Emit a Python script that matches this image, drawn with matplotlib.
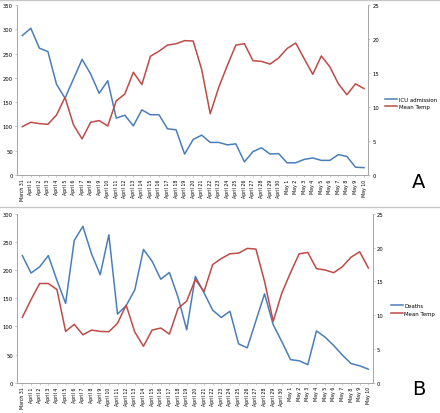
import matplotlib
matplotlib.use("Agg")
import matplotlib.pyplot as plt
from matplotlib.lines import Line2D

dates = ["March 31"] + ["April %d" % d for d in range(1, 31)] + ["May %d" % d for d in range(1, 11)]

# panel A
icu_admission = [287, 302, 261, 254, 187, 158, 198, 238, 208, 168, 194, 117, 123, 101, 134,
                 124, 124, 95, 93, 43, 73, 82, 67, 67, 62, 64, 27, 48, 56, 43,
                 44, 25, 25, 32, 35, 30, 30, 42, 38, 16, 15]
temp_a = [7.1, 7.75, 7.55, 7.45, 8.8, 11.4, 7.35, 5.3, 7.75, 8.0, 7.2, 10.9, 11.9, 15.1, 13.3,
          17.45, 18.2, 19.1, 19.3, 19.75, 19.7, 15.5, 9.0, 12.9, 16.1, 19.1, 19.3, 16.8, 16.7, 16.3,
          17.2, 18.6, 19.4, 17.1, 14.8, 17.5, 15.9, 13.4, 11.8, 13.4, 12.7]

# panel B
deaths = [226, 195, 206, 226, 182, 141, 253, 278, 229, 192, 263, 122, 137, 165, 237,
          216, 184, 196, 152, 94, 189, 160, 129, 116, 127, 69, 62, 110, 158, 103,
          73, 41, 39, 32, 92, 81, 66, 49, 34, 30, 24]
temp_b = [9.7, 12.3, 14.7, 14.7, 13.8, 7.6, 8.65, 7.1, 7.8, 7.6, 7.55, 8.8, 11.5, 7.5, 5.4,
          7.8, 8.1, 7.2, 11.0, 12.1, 15.3, 13.5, 17.5, 18.4, 19.1, 19.2, 19.9, 19.8, 15.0, 9.1,
          13.3, 16.3, 19.1, 19.3, 16.9, 16.7, 16.3, 17.2, 18.6, 19.4, 17.0]

BLUE = "#4a7ebb"
RED = "#be4b48"
GRID = "#a6a6a6"

fig = plt.figure(figsize=(4.4, 4.14), dpi=100)


def panel(rect, left_vals, right_vals, left_max, left_name, letter, letter_y, legend_x, legend_y):
    ax = fig.add_axes(rect)
    ax2 = ax.twinx()
    x = list(range(len(dates)))
    ax.plot(x, left_vals, color=BLUE, lw=1.1)
    ax2.plot(x, right_vals, color=RED, lw=1.1)
    ax.set_xlim(-0.6, 40.5)
    ax.set_ylim(0, left_max)
    ax2.set_ylim(0, 25)
    ax.set_yticks(range(0, left_max + 1, 50))
    ax2.set_yticks(range(0, 26, 5))
    ax.set_xticks(x)
    ax.set_xticklabels(dates, rotation=90, fontsize=3.4)
    for a in (ax, ax2):
        a.tick_params(axis="y", labelsize=3.8, length=1.5, width=0.4, color=GRID, pad=1.5)
        a.tick_params(axis="x", length=1.5, width=0.4, color=GRID, pad=1)
        a.spines["top"].set_visible(False)
        for s in ("left", "right", "bottom"):
            a.spines[s].set_color(GRID)
            a.spines[s].set_linewidth(0.6)
    ax.set_facecolor("none")
    handles = [Line2D([], [], color=BLUE, lw=1.1), Line2D([], [], color=RED, lw=1.1)]
    fig.legend(handles, [left_name, "Mean Temp"], loc="center left",
               bbox_to_anchor=(legend_x, legend_y), frameon=False, fontsize=3.9,
               handlelength=2.2, handletextpad=0.3, labelspacing=0.45)
    fig.text(0.952, letter_y, letter, fontsize=14, ha="center", va="center")
    return ax


panel([0.039, 0.575, 0.798, 0.4106], icu_admission, temp_a, 350, "ICU admission",
      "A", 0.56, 0.865, 0.749)
panel([0.039, 0.0732, 0.808, 0.4075], deaths, temp_b, 300, "Deaths",
      "B", 0.06, 0.877, 0.25)

# separator rules between panels
fig.add_artist(Line2D([0, 1], [0.997, 0.997], color="#c8c8c8", lw=1.0))
fig.add_artist(Line2D([0, 1], [0.498, 0.498], color="#c8c8c8", lw=1.0))

fig.savefig("out.png", dpi=100)
